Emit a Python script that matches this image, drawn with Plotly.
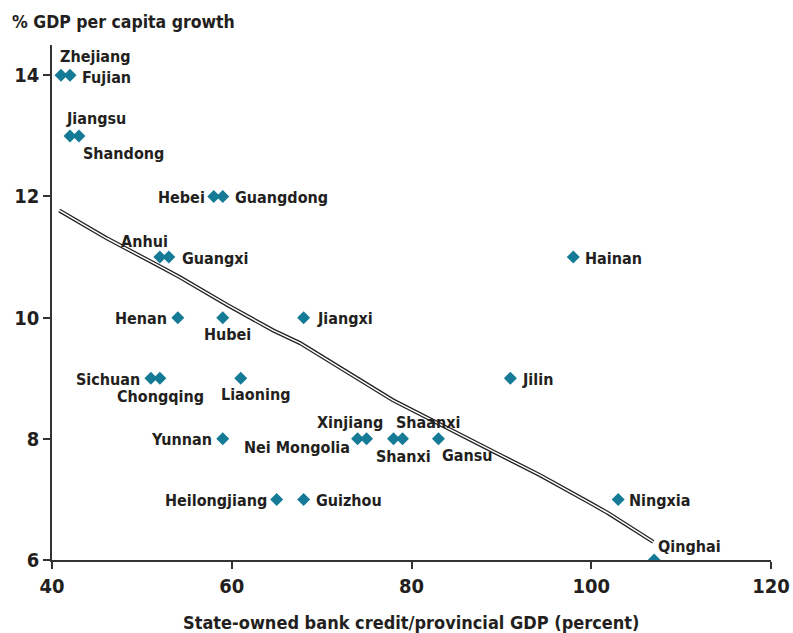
import plotly.graph_objects as go

# provinces: bank credit/GDP (x) vs GDP per capita growth (y)
provinces = ['Zhejiang', 'Fujian', 'Jiangsu', 'Shandong', 'Hebei', 'Guangdong',
             'Anhui', 'Guangxi', 'Hainan', 'Henan', 'Hubei', 'Jiangxi',
             'Sichuan', 'Chongqing', 'Liaoning', 'Jilin', 'Yunnan', 'Xinjiang',
             'Nei Mongolia', 'Shaanxi', 'Shanxi', 'Gansu', 'Heilongjiang',
             'Guizhou', 'Ningxia', 'Qinghai']
credit_gdp = [41, 42, 42, 43, 58, 59,
              52, 53, 98, 54, 59, 68,
              51, 52, 61, 91, 59, 74,
              75, 78, 79, 83, 65,
              68, 103, 107]
growth = [14, 14, 13, 13, 12, 12,
          11, 11, 11, 10, 10, 10,
          9, 9, 9, 9, 8, 8,
          8, 8, 8, 8, 7,
          7, 7, 6]

# fitted line as drawn in the original
fit_x = [40.8, 46.1, 51.7, 54.2, 59.5, 64.6, 67.6, 72.0, 77.9, 89.9, 94.3, 99.9, 101.8, 106.9]
fit_y = [11.77, 11.31, 10.87, 10.67, 10.21, 9.79, 9.58, 9.18, 8.64, 7.73, 7.40, 6.94, 6.78, 6.30]

# label placement (anchor, x shift px, y shift px) for each province
label_style = [('left', -3, 19), ('left', 10, -2), ('left', -6, 17), ('left', 2, -18),
               ('right', -7, -1), ('left', 10, -1), ('right', 10, 16), ('left', 11, -1),
               ('left', 10, -1), ('right', -9, -1), ('center', 5, -17), ('left', 11, -1),
               ('right', -9, -1), ('center', 1, -18), ('center', 15, -16), ('left', 10, -1),
               ('right', -9, -1), ('center', -8, 16), ('right', -15, -9), ('left', 0, 16),
               ('center', 1, -18), ('left', 2, -17), ('right', -8, -1), ('left', 10, -1),
               ('left', 9, -1), ('left', 2, 14)]

FONT = 'DejaVu Sans Condensed, Liberation Sans Narrow, Arial Narrow, sans-serif'
INK = '#231f20'

fig = go.Figure()

# double line: dark outline with white core
fig.add_trace(go.Scatter(x=fit_x, y=fit_y, mode='lines',
                         line=dict(color=INK, width=4), hoverinfo='skip'))
fig.add_trace(go.Scatter(x=fit_x, y=fit_y, mode='lines',
                         line=dict(color='white', width=1.5), hoverinfo='skip'))

fig.add_trace(go.Scatter(x=credit_gdp, y=growth, mode='markers',
                         marker=dict(symbol='diamond', size=10, color='#147a96')))

for name, xv, yv, (anc, dx, dy) in zip(provinces, credit_gdp, growth, label_style):
    fig.add_annotation(x=xv, y=yv, text=name, showarrow=False,
                       xanchor=anc, yanchor='middle', xshift=dx, yshift=dy,
                       font=dict(family=FONT, size=16, color=INK, weight='bold'))

fig.add_annotation(text='% GDP per capita growth', xref='paper', yref='paper',
                   x=-0.058, y=1.0, xanchor='left', yanchor='middle', yshift=23,
                   showarrow=False, font=dict(family=FONT, size=17.5, color=INK, weight='bold'))
fig.add_annotation(text='State-owned bank credit/provincial GDP (percent)',
                   xref='paper', yref='paper', x=0.5, y=0, xanchor='center',
                   yanchor='middle', yshift=-62, showarrow=False,
                   font=dict(family=FONT, size=18, color=INK, weight='bold'))

fig.update_layout(
    width=793, height=633,
    showlegend=False,
    plot_bgcolor='white', paper_bgcolor='white',
    margin=dict(l=52, r=22, t=45, b=73),
    font=dict(family=FONT, size=20, color=INK, weight='bold'),
    xaxis=dict(range=[40, 120], tickvals=[40, 60, 80, 100, 120], automargin=False,
               showgrid=False, zeroline=False, showline=True,
               linecolor='#333', linewidth=1.5, ticks='outside', ticklen=7,
               tickcolor='#333', tickwidth=1.5),
    yaxis=dict(range=[6, 14.5], tickvals=[6, 8, 10, 12, 14], automargin=False,
               showgrid=False, zeroline=False, showline=True,
               linecolor='#333', linewidth=1.5, ticks='outside', ticklen=7,
               tickcolor='#333', tickwidth=1.5),
)

# drop the default page margin so the figure fills the window exactly
fig.write_html("out.html", config={'displayModeBar': False},
               post_script="document.body.style.margin='0';document.body.style.overflow='hidden';")
